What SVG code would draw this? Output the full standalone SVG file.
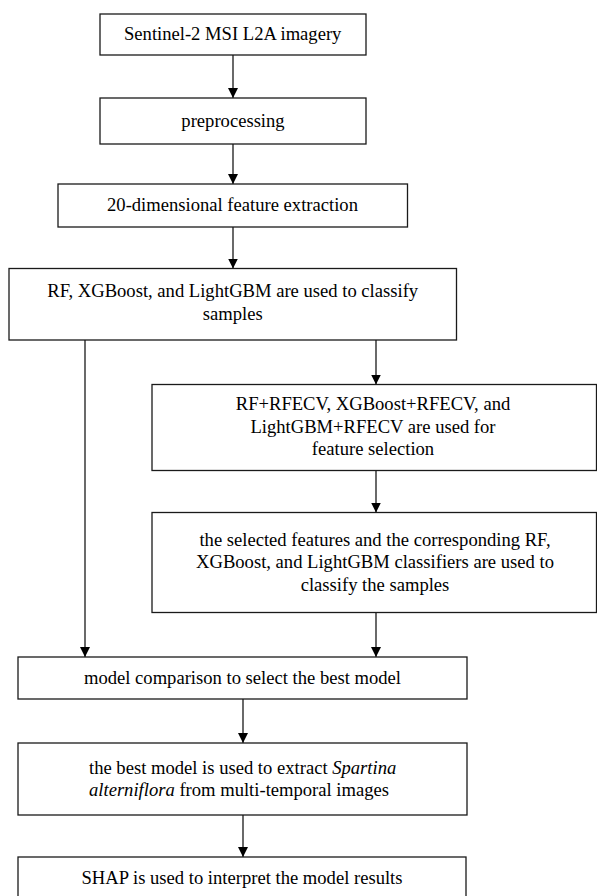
<svg xmlns="http://www.w3.org/2000/svg" width="597" height="896" viewBox="0 0 597 896">
<style>
  .box { fill: #ffffff; stroke: #1a1a1a; stroke-width: 1.3; }
  .lbl { font-family: "Liberation Serif", "Times New Roman", serif; font-size: 18.6px; fill: #000000; text-anchor: middle; }
  .lbl-start { text-anchor: start; }
  .conn { stroke: #1a1a1a; stroke-width: 1.3; fill: none; marker-end: url(#arrow); }
</style>
<defs>
  <marker id="arrow" markerUnits="userSpaceOnUse" markerWidth="10" markerHeight="10" refX="10" refY="5" orient="auto">
    <path d="M0,0 L10,5 L0,10 z" fill="#000000"/>
  </marker>
</defs>
<rect width="597" height="896" fill="#ffffff"/>

<g id="connectors">
  <line class="conn" x1="233" y1="55" x2="233" y2="98"/>
  <line class="conn" x1="233" y1="144" x2="233" y2="184"/>
  <line class="conn" x1="233" y1="227" x2="233" y2="268.5"/>
  <line class="conn" x1="376" y1="340" x2="376" y2="384.5"/>
  <line class="conn" x1="376" y1="470.5" x2="376" y2="512.5"/>
  <line class="conn" x1="85" y1="340" x2="85" y2="657"/>
  <line class="conn" x1="376" y1="612.5" x2="376" y2="657"/>
  <line class="conn" x1="243" y1="699" x2="243" y2="743"/>
  <line class="conn" x1="243" y1="815" x2="243" y2="857"/>
</g>

<g id="n1">
  <rect class="box" x="100" y="14" width="266" height="41"/>
  <text class="lbl" x="232.7" y="40">Sentinel-2 MSI L2A imagery</text>
</g>
<g id="n2">
  <rect class="box" x="100" y="98" width="266" height="46"/>
  <text class="lbl" x="233" y="126.5">preprocessing</text>
</g>
<g id="n3">
  <rect class="box" x="58" y="184" width="349.5" height="43"/>
  <text class="lbl" x="232.5" y="211">20-dimensional feature extraction</text>
</g>
<g id="n4">
  <rect class="box" x="9" y="268.5" width="447.5" height="71.5"/>
  <text class="lbl" x="232.7" y="297">RF, XGBoost, and LightGBM are used to classify</text>
  <text class="lbl" x="232.7" y="320">samples</text>
</g>
<g id="n5">
  <rect class="box" x="152" y="384.5" width="444.5" height="86"/>
  <text class="lbl" x="373" y="410">RF+RFECV, XGBoost+RFECV, and</text>
  <text class="lbl" x="373" y="432.5">LightGBM+RFECV are used for</text>
  <text class="lbl" x="373" y="455">feature selection</text>
</g>
<g id="n6">
  <rect class="box" x="152" y="512.5" width="444.5" height="100"/>
  <text class="lbl" x="375" y="545.5">the selected features and the corresponding RF,</text>
  <text class="lbl" x="375" y="568">XGBoost, and LightGBM classifiers are used to</text>
  <text class="lbl" x="375" y="590.5">classify the samples</text>
</g>
<g id="n7">
  <rect class="box" x="18" y="657" width="449" height="42"/>
  <text class="lbl" x="242.5" y="683.5">model comparison to select the best model</text>
</g>
<g id="n8">
  <rect class="box" x="18" y="743" width="449" height="72"/>
  <text class="lbl lbl-start" x="89" y="773.5">the best model is used to extract <tspan font-style="italic">Spartina</tspan></text>
  <text class="lbl lbl-start" x="89" y="795.5"><tspan font-style="italic">alterniflora</tspan> from multi-temporal images</text>
</g>
<g id="n9">
  <rect class="box" x="18" y="857" width="448" height="45"/>
  <text class="lbl" x="242" y="883.5">SHAP is used to interpret the model results</text>
</g>
</svg>
